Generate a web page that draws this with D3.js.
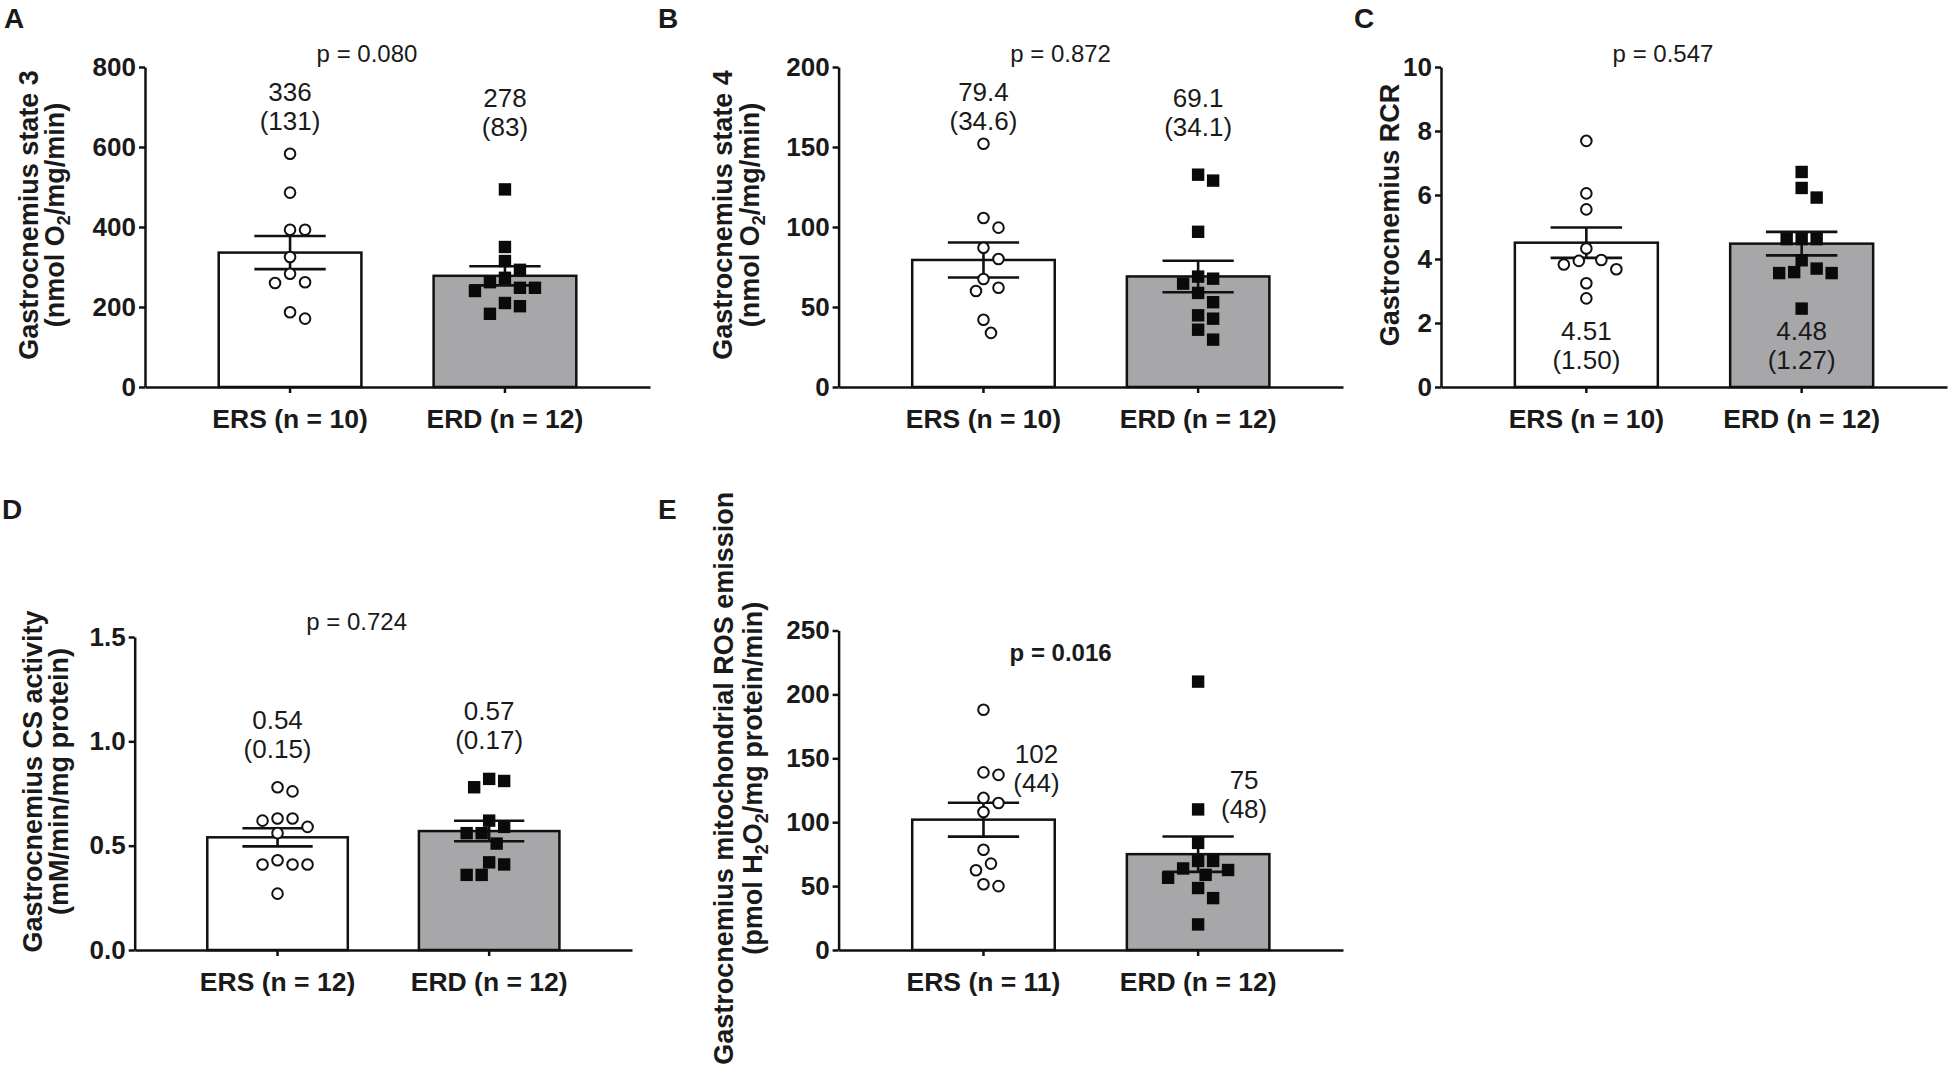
<!DOCTYPE html>
<html>
<head>
<meta charset="UTF-8">
<title>Gastrocnemius mitochondrial function</title>
<script src="https://d3js.org/d3.v7.min.js"></script>
<style>
  body { margin: 0; background: #fff; }
  text { font-family: "Liberation Sans", Arial, sans-serif; fill: #1a1a1a; }
</style>
</head>
<body>
<div id="chart"></div>
<script>
// groups on every panel
var groups = ["ERS", "ERD"];

// A - state 3 (nmol O2/mg/min)
var state3ERS = [583, 486, 393, 393, 325, 283, 262, 260, 187, 171];
var state3ERD = [494, 350, 315, 293, 273, 262, 248, 248, 240, 210, 202, 183];
var state3Mean = [336, 278];
var state3SD = [131, 83];
var state3Ticks = [0, 200, 400, 600, 800];

// B - state 4
var state4ERS = [152, 105.6, 99.6, 87, 80, 67.5, 62, 60, 42, 33.8];
var state4ERD = [132.7, 129, 97, 69, 67.7, 64.6, 58.8, 53, 44.8, 42.7, 35.8, 29.6];
var state4Mean = [79.4, 69.1];
var state4SD = [34.6, 34.1];
var state4Ticks = [0, 50, 100, 150, 200];

// C - RCR
var rcrERS = [7.69, 6.05, 5.55, 4.33, 3.97, 3.94, 3.83, 3.68, 3.24, 2.77];
var rcrERD = [6.72, 6.22, 5.92, 4.62, 4.62, 4.62, 3.96, 3.70, 3.59, 3.56, 3.56, 2.45];
var rcrMean = [4.51, 4.48];
var rcrSD = [1.50, 1.27];
var rcrTicks = [0, 2, 4, 6, 8, 10];

// D - CS activity
var csERS = [0.78, 0.76, 0.63, 0.62, 0.63, 0.59, 0.56, 0.43, 0.41, 0.41, 0.41, 0.27];
var csERD = [0.81, 0.82, 0.78, 0.62, 0.59, 0.56, 0.56, 0.51, 0.41, 0.42, 0.36, 0.36];
var csMean = [0.54, 0.57];
var csSD = [0.15, 0.17];
var csTicks = [0, 0.5, 1.0, 1.5];

// E - ROS emission
var rosERS = [188, 137, 139, 119, 115, 108, 78.5, 67.6, 62.4, 50, 51.5];
var rosERD = [210, 110, 83.8, 69.7, 69.7, 62.6, 63.8, 58.8, 56.5, 48.5, 40.6, 20];
var rosMean = [102, 75];
var rosSD = [44, 48];
var rosTicks = [0, 50, 100, 150, 200, 250];

var pValues = ["0.080", "0.872", "0.547", "0.724", "0.016"];

// panel layout (pixels) + where the mean (SD) labels sit (data units)
var panels = [
  {id: "A", ers: state3ERS, erd: state3ERD, mean: state3Mean, sd: state3SD, ticks: state3Ticks,
   tickFmt: "d", labFmt: "d", p: pValues[0], pBold: false,
   title: ["Gastrocnemius state 3", "(nmol O_2/mg/min)"],
   left: 145, top: 67, bottom: 387, right: 650, letterX: 4, letterY: 28,
   titleX: [-107, -81], pY: -5, labelAt: [715, 700], labelDx: [0, 0]},
  {id: "B", ers: state4ERS, erd: state4ERD, mean: state4Mean, sd: state4SD, ticks: state4Ticks,
   tickFmt: "d", labFmt: ".1f", p: pValues[1], pBold: false,
   title: ["Gastrocnemius state 4", "(nmol O_2/mg/min)"],
   left: 838.6, top: 67, bottom: 387, right: 1343, letterX: 658, letterY: 28,
   titleX: [-107, -80], pY: -5, labelAt: [179, 175], labelDx: [0, 0]},
  {id: "C", ers: rcrERS, erd: rcrERD, mean: rcrMean, sd: rcrSD, ticks: rcrTicks,
   tickFmt: "d", labFmt: ".2f", p: pValues[2], pBold: false,
   title: ["Gastrocnemius RCR"],
   left: 1441, top: 67, bottom: 387, right: 1947, letterX: 1354, letterY: 28,
   titleX: [-42], pY: -5, labelAt: [1.47, 1.47], labelDx: [0, 0]},
  {id: "D", ers: csERS, erd: csERD, mean: csMean, sd: csSD, ticks: csTicks,
   tickFmt: ".1f", labFmt: ".2f", p: pValues[3], pBold: false,
   title: ["Gastrocnemius CS activity", "(mM/min/mg protein)"],
   left: 134.7, top: 637, bottom: 950, right: 632, letterX: 2, letterY: 519,
   titleX: [-93, -67], pY: -7, labelAt: [1.06, 1.10], labelDx: [0, 0]},
  {id: "E", ers: rosERS, erd: rosERD, mean: rosMean, sd: rosSD, ticks: rosTicks,
   tickFmt: "d", labFmt: "d", p: pValues[4], pBold: true,
   title: ["Gastrocnemius mitochondrial ROS emission", "(pmol H_2O_2/mg protein/min)"],
   left: 838.6, top: 630.5, bottom: 950, right: 1343, letterX: 658, letterY: 519,
   titleX: [-106, -77], pY: 30, labelAt: [146, 126], labelDx: [53, 46]}
];

var barFill = ["#ffffff", "#a7a7a9"];

var svg = d3.select("#chart").append("svg")
    .attr("width", 1950)
    .attr("height", 1070);

// simple dodge: put each point at the nearest free horizontal slot
function swarm(values, yScale, step, minDist) {
  var order = d3.range(values.length).sort(function(a, b) { return values[b] - values[a]; });
  var placed = [];
  var out = new Array(values.length);
  order.forEach(function(i) {
    var py = yScale(values[i]);
    for (var k = 0; k < 30; k++) {
      var slot = k === 0 ? 0 : (k % 2 ? (k + 1) / 2 : -k / 2);
      var px = slot * step;
      var ok = placed.every(function(q) { return Math.hypot(px - q.x, py - q.y) >= minDist; });
      if (ok) { placed.push({x: px, y: py}); out[i] = {x: px, y: py}; break; }
    }
  });
  return out;
}

panels.forEach(function(p) {
  var w = p.right - p.left, h = p.bottom - p.top;
  var g = svg.append("g").attr("transform", "translate(" + p.left + "," + p.top + ")");

  var y = d3.scaleLinear().domain([0, d3.max(p.ticks)]).range([h, 0]);
  var x = d3.scaleBand().domain(groups).range([0, w]).paddingInner(0.336).paddingOuter(0.343);
  var bw = x.bandwidth();
  var sets = [p.ers, p.erd];

  // bars
  g.selectAll("rect.bar").data(groups).enter().append("rect")
    .attr("class", "bar")
    .attr("x", function(d) { return x(d); })
    .attr("y", function(d, i) { return y(p.mean[i]); })
    .attr("width", bw)
    .attr("height", function(d, i) { return h - y(p.mean[i]); })
    .attr("fill", function(d, i) { return barFill[i]; })
    .attr("stroke", "#111")
    .attr("stroke-width", 2.5);

  // axes
  var yAxis = g.append("g")
    .call(d3.axisLeft(y).tickValues(p.ticks).tickFormat(d3.format(p.tickFmt))
      .tickSize(6).tickPadding(3).tickSizeOuter(0));
  yAxis.selectAll("text").attr("font-size", 26).attr("font-weight", "bold").attr("fill", "#1a1a1a");

  var xAxis = g.append("g")
    .attr("transform", "translate(0," + h + ")")
    .call(d3.axisBottom(x).tickSize(6).tickSizeOuter(0)
      .tickFormat(function(d, i) { return d + " (n = " + sets[i].length + ")"; }));
  xAxis.selectAll("text").attr("font-size", 26.5).attr("font-weight", "bold")
    .attr("y", 41).attr("dy", null).attr("fill", "#1a1a1a");

  [yAxis, xAxis].forEach(function(a) {
    a.select(".domain").attr("stroke", "#111").attr("stroke-width", 2.5);
    a.selectAll(".tick line").attr("stroke", "#111").attr("stroke-width", 2.5);
  });

  // error bars (SEM)
  groups.forEach(function(gr, i) {
    var cx = x(gr) + bw / 2;
    var sem = p.sd[i] / Math.sqrt(sets[i].length);
    var eg = g.append("g").attr("stroke", "#111").attr("stroke-width", 2.6);
    eg.append("line").attr("x1", cx).attr("x2", cx)
      .attr("y1", y(p.mean[i] + sem)).attr("y2", y(p.mean[i] - sem));
    [p.mean[i] + sem, p.mean[i] - sem].forEach(function(v) {
      eg.append("line").attr("x1", cx - bw / 4).attr("x2", cx + bw / 4)
        .attr("y1", y(v)).attr("y2", y(v));
    });
  });

  // individual points
  var ersPos = swarm(p.ers, y, 7.5, 14);
  g.selectAll("circle.pt").data(p.ers).enter().append("circle")
    .attr("class", "pt")
    .attr("cx", function(d, i) { return x("ERS") + bw / 2 + ersPos[i].x; })
    .attr("cy", function(d) { return y(d); })
    .attr("r", 5.3)
    .attr("fill", "#fff")
    .attr("stroke", "#111")
    .attr("stroke-width", 2);

  var erdPos = swarm(p.erd, y, 7.5, 14);
  g.selectAll("rect.pt").data(p.erd).enter().append("rect")
    .attr("class", "pt")
    .attr("x", function(d, i) { return x("ERD") + bw / 2 + erdPos[i].x - 6.2; })
    .attr("y", function(d) { return y(d) - 6.2; })
    .attr("width", 12.4)
    .attr("height", 12.4)
    .attr("fill", "#0a0a0a");

  // mean (SD) labels
  var fmt = d3.format(p.labFmt);
  groups.forEach(function(gr, i) {
    var cx = x(gr) + bw / 2 + p.labelDx[i];
    var ly = y(p.labelAt[i]);
    g.append("text").attr("x", cx).attr("y", ly).attr("text-anchor", "middle")
      .attr("font-size", 26).attr("fill", "#222").text(fmt(p.mean[i]));
    g.append("text").attr("x", cx).attr("y", ly + 29).attr("text-anchor", "middle")
      .attr("font-size", 26).attr("fill", "#222").text("(" + fmt(p.sd[i]) + ")");
  });

  // p value
  g.append("text").attr("x", 222).attr("y", p.pY).attr("text-anchor", "middle")
    .attr("font-size", 24).attr("font-weight", p.pBold ? "bold" : "normal")
    .text("p = " + p.p);

  // y title (rotated, with subscripts written as _2)
  var cy = h / 2 - 12;
  p.title.forEach(function(line, j) {
    var tx = p.titleX[j];
    var t = g.append("text")
      .attr("transform", "translate(" + tx + "," + cy + ") rotate(-90)")
      .attr("text-anchor", "middle")
      .attr("font-size", 27).attr("font-weight", "bold");
    line.split(/_(\d)/).forEach(function(part, k) {
      if (k % 2 === 1) {
        t.append("tspan").attr("font-size", 18).attr("dy", 6).text(part);
      } else if (part.length) {
        t.append("tspan").attr("dy", k > 0 ? -6 : 0).text(part);
      }
    });
  });

  // panel letter
  svg.append("text").attr("x", p.letterX).attr("y", p.letterY)
    .attr("font-size", 28).attr("font-weight", "bold").text(p.id);
});
</script>
</body>
</html>
